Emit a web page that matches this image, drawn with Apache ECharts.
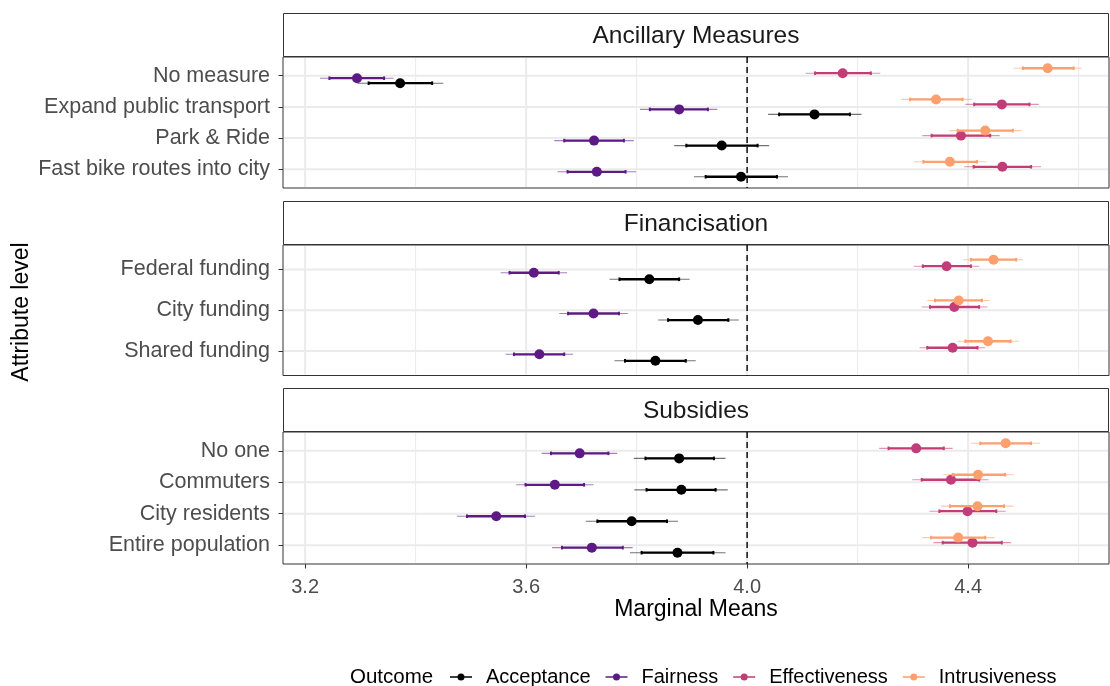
<!DOCTYPE html>
<html>
<head>
<meta charset="utf-8">
<script src="https://cdn.jsdelivr.net/npm/echarts@6/dist/echarts.min.js"></script>
<style>
  html, body { margin: 0; padding: 0; background: #ffffff; }
  #chart { width: 1110px; height: 686px; }
</style>
</head>
<body>
<div id="chart"></div>
<script>
// ---- Facets, attribute levels and outcomes ----
const facetNames = ['Ancillary Measures', 'Financisation', 'Subsidies'];
const levelsAncillary = ['No measure', 'Expand public transport', 'Park & Ride', 'Fast bike routes into city'];
const levelsFinance = ['Federal funding', 'City funding', 'Shared funding'];
const levelsSubsidy = ['No one', 'Commuters', 'City residents', 'Entire population'];
const outcomes = ['Acceptance', 'Fairness', 'Effectiveness', 'Intrusiveness'];

// x-axis ticks and gridlines
const xTicks = [3.2, 3.6, 4.0, 4.4];
const xMinor = [3.4, 3.8, 4.2, 4.6];
const refValue = 4.0;

// Estimates and intervals; the 11 entries run through the levels of the three facets in order
const acceptanceEst  = [3.372, 4.122, 3.954, 3.989, 3.823, 3.911, 3.834, 3.877, 3.881, 3.791, 3.874];
const acceptanceLo95 = [3.295, 4.038, 3.868, 3.904, 3.751, 3.839, 3.760, 3.795, 3.796, 3.708, 3.788];
const acceptanceHi95 = [3.450, 4.207, 4.040, 4.074, 3.896, 3.985, 3.907, 3.961, 3.965, 3.875, 3.961];
const acceptanceLo90 = [3.315, 4.058, 3.890, 3.925, 3.769, 3.857, 3.779, 3.816, 3.818, 3.729, 3.809];
const acceptanceHi90 = [3.430, 4.186, 4.019, 4.054, 3.877, 3.966, 3.889, 3.940, 3.943, 3.855, 3.939];

const fairnessEst  = [3.294, 3.877, 3.723, 3.728, 3.614, 3.722, 3.624, 3.697, 3.652, 3.546, 3.719];
const fairnessLo95 = [3.227, 3.806, 3.651, 3.657, 3.554, 3.660, 3.563, 3.628, 3.582, 3.475, 3.647];
const fairnessHi95 = [3.360, 3.946, 3.795, 3.799, 3.674, 3.784, 3.685, 3.765, 3.722, 3.616, 3.793];
const fairnessLo90 = [3.244, 3.824, 3.669, 3.675, 3.570, 3.676, 3.578, 3.645, 3.599, 3.493, 3.665];
const fairnessHi90 = [3.343, 3.929, 3.777, 3.780, 3.659, 3.768, 3.669, 3.749, 3.705, 3.598, 3.775];

const effectivenessEst  = [4.173, 4.461, 4.387, 4.462, 4.361, 4.375, 4.372, 4.306, 4.369, 4.399, 4.408];
const effectivenessLo95 = [4.106, 4.395, 4.317, 4.393, 4.302, 4.316, 4.312, 4.239, 4.299, 4.330, 4.337];
const effectivenessHi95 = [4.241, 4.528, 4.457, 4.532, 4.420, 4.435, 4.431, 4.372, 4.437, 4.468, 4.478];
const effectivenessLo90 = [4.123, 4.411, 4.334, 4.410, 4.318, 4.331, 4.326, 4.256, 4.316, 4.348, 4.354];
const effectivenessHi90 = [4.224, 4.511, 4.440, 4.514, 4.405, 4.420, 4.417, 4.356, 4.420, 4.451, 4.461];

const intrusivenessEst  = [4.544, 4.342, 4.431, 4.367, 4.446, 4.383, 4.436, 4.468, 4.418, 4.417, 4.382];
const intrusivenessLo95 = [4.482, 4.279, 4.366, 4.302, 4.391, 4.326, 4.381, 4.405, 4.355, 4.351, 4.317];
const intrusivenessHi95 = [4.606, 4.407, 4.497, 4.433, 4.500, 4.439, 4.492, 4.530, 4.483, 4.482, 4.448];
const intrusivenessLo90 = [4.499, 4.295, 4.381, 4.319, 4.405, 4.340, 4.395, 4.422, 4.372, 4.367, 4.333];
const intrusivenessHi90 = [4.591, 4.390, 4.481, 4.416, 4.487, 4.425, 4.477, 4.514, 4.467, 4.465, 4.431];

// ---- Assemble ----
const facetLevels = [levelsAncillary, levelsFinance, levelsSubsidy];
const outcomeData = [
  [acceptanceEst, acceptanceLo95, acceptanceHi95, acceptanceLo90, acceptanceHi90],
  [fairnessEst, fairnessLo95, fairnessHi95, fairnessLo90, fairnessHi90],
  [effectivenessEst, effectivenessLo95, effectivenessHi95, effectivenessLo90, effectivenessHi90],
  [intrusivenessEst, intrusivenessLo95, intrusivenessHi95, intrusivenessLo90, intrusivenessHi90]
];
const outcomeColors = ['#000000', '#5D1A84', '#C23C77', '#FE9F6D'];
const dodge = [0.24, 0.08, -0.08, -0.24];   // vertical offset of each outcome within a level

const FONT = '"Liberation Sans", Arial, Helvetica, sans-serif';
const panelLeft = 283, panelWidth = 826;
const panelTop = [57, 245, 432];
const panelHeight = [131, 130.5, 132];
const stripHeight = 43;
const xMin = 3.16, xMax = 4.655;

const grids = [], xAxes = [], yAxes = [], series = [], graphics = [];

function gridLineItem(params, api) {
  const cs = params.coordSys;
  const kind = api.value(1);
  const v = api.value(0);
  if (kind === 2) {
    const p = api.coord([xMin, v]);
    return { type: 'line', shape: { x1: cs.x + 1, y1: p[1], x2: cs.x + cs.width - 1, y2: p[1] },
      style: { stroke: '#EBEBEB', lineWidth: 2 } };
  }
  const p = api.coord([v, 1]);
  return { type: 'line', shape: { x1: p[0], y1: cs.y + 1, x2: p[0], y2: cs.y + cs.height - 1 },
    style: { stroke: '#EBEBEB', lineWidth: kind === 0 ? 2 : 1 } };
}

function refLineItem(params, api) {
  const cs = params.coordSys;
  const p = api.coord([api.value(0), 1]);
  return { type: 'line', shape: { x1: p[0], y1: cs.y, x2: p[0], y2: cs.y + cs.height },
    style: { stroke: '#000000', lineWidth: 1.4, lineDash: [6, 4] } };
}

function rangeItemFor(color) {
  return function (params, api) {
    const y = api.value(5);
    const m = api.coord([api.value(0), y]);
    const a = api.coord([api.value(1), y]);
    const b = api.coord([api.value(2), y]);
    const c = api.coord([api.value(3), y]);
    const d = api.coord([api.value(4), y]);
    return {
      type: 'group',
      children: [
        { type: 'line', shape: { x1: a[0], y1: a[1], x2: b[0], y2: b[1] },
          style: { stroke: color, lineWidth: 1.1, opacity: 0.55 } },
        { type: 'line', shape: { x1: c[0], y1: c[1], x2: d[0], y2: d[1] },
          style: { stroke: color, lineWidth: 2.3 } },
        { type: 'rect', shape: { x: c[0] - 1, y: c[1] - 1.8, width: 2, height: 3.6 }, style: { fill: color } },
        { type: 'rect', shape: { x: d[0] - 1, y: d[1] - 1.8, width: 2, height: 3.6 }, style: { fill: color } },
        { type: 'circle', shape: { cx: m[0], cy: m[1], r: 5 }, style: { fill: color } }
      ]
    };
  };
}

let offset = 0;
facetLevels.forEach(function (levels, f) {
  const n = levels.length;
  const isBottom = f === facetLevels.length - 1;
  grids.push({
    left: panelLeft, width: panelWidth, top: panelTop[f], height: panelHeight[f],
    show: true, backgroundColor: '#ffffff', borderColor: '#333333', borderWidth: 1
  });
  xAxes.push({
    type: 'value', gridIndex: f, min: xMin, max: xMax,
    axisLine: { show: false },
    splitLine: { show: false },
    axisTick: { show: isBottom, customValues: xTicks, length: 4.5, inside: false,
      lineStyle: { color: '#333333', width: 1 } },
    axisLabel: { show: isBottom, customValues: xTicks, margin: 13, fontSize: 20, color: '#4D4D4D', fontFamily: FONT,
      formatter: function (v) { return v.toFixed(1); } },
    name: isBottom ? 'Marginal Means' : '',
    nameLocation: 'middle', nameGap: 34,
    nameTextStyle: { fontSize: 23, color: '#000000', fontFamily: FONT, verticalAlign: 'top' }
  });
  const levelTicks = levels.map(function (_, i) { return i + 1; });
  yAxes.push({
    type: 'value', gridIndex: f, min: 0.4, max: n + 0.6, inverse: true,
    axisLine: { show: false },
    splitLine: { show: false },
    axisTick: { show: true, customValues: levelTicks, length: 4.5, lineStyle: { color: '#333333', width: 1 } },
    axisLabel: { show: true, customValues: levelTicks, margin: 13, fontSize: 21.5, color: '#4D4D4D', fontFamily: FONT,
      formatter: function (v) { return levels[Math.round(v) - 1]; } }
  });

  // background gridlines
  const gl = [];
  xTicks.forEach(function (v) { gl.push([v, 0]); });
  xMinor.forEach(function (v) { gl.push([v, 1]); });
  levelTicks.forEach(function (v) { gl.push([v, 2]); });
  series.push({ type: 'custom', xAxisIndex: f, yAxisIndex: f, silent: true, z: 1,
    renderItem: gridLineItem, data: gl });
  // reference line
  series.push({ type: 'custom', xAxisIndex: f, yAxisIndex: f, silent: true, z: 2,
    renderItem: refLineItem, data: [[refValue, 1]] });

  // outcome ranges
  outcomes.forEach(function (name, k) {
    const arrs = outcomeData[k];
    const data = levels.map(function (_, i) {
      const j = offset + i;
      return [arrs[0][j], arrs[1][j], arrs[2][j], arrs[3][j], arrs[4][j], i + 1 + dodge[k]];
    });
    series.push({
      type: 'custom', name: name, xAxisIndex: f, yAxisIndex: f, z: 3 + k,
      itemStyle: { color: outcomeColors[k] },
      renderItem: rangeItemFor(outcomeColors[k]),
      encode: { x: [0, 1, 2, 3, 4], y: 5 },
      data: data
    });
  });
  offset += n;

  // facet strip
  const sTop = panelTop[f] - stripHeight - 1;
  graphics.push({
    type: 'rect', z: 10,
    shape: { x: panelLeft + 0.5, y: sTop + 0.5, width: panelWidth - 1, height: stripHeight },
    style: { fill: '#ffffff', stroke: '#333333', lineWidth: 1 }
  });
  graphics.push({
    type: 'text', z: 11,
    x: panelLeft + panelWidth / 2, y: sTop + stripHeight / 2 + 1.5,
    style: { text: facetNames[f], fontSize: 24.5, fontFamily: FONT, fill: '#1A1A1A',
      align: 'center', verticalAlign: 'middle', textAlign: 'center', textVerticalAlign: 'middle' }
  });
});

// y-axis title
graphics.push({
  type: 'text', z: 11, x: 22, y: 312, rotation: Math.PI / 2,
  style: { text: 'Attribute level', fontSize: 23, fontFamily: FONT, fill: '#000000',
    align: 'center', verticalAlign: 'middle', textAlign: 'center', textVerticalAlign: 'middle' }
});
// legend title
graphics.push({
  type: 'text', z: 11, x: 350, y: 677,
  style: { text: 'Outcome', fontSize: 20.5, fontFamily: FONT, fill: '#000000',
    align: 'left', verticalAlign: 'middle', textAlign: 'left', textVerticalAlign: 'middle' }
});

const legendIcon = 'path://M0,2.8L22,2.8L22,4.2L0,4.2Z M11,0 A3.5,3.5 0 1 1 11,7 A3.5,3.5 0 1 1 11,0 Z';

const chart = echarts.init(document.getElementById('chart'), null, { renderer: 'canvas' });
chart.setOption({
  animation: false,
  backgroundColor: '#ffffff',
  grid: grids,
  xAxis: xAxes,
  yAxis: yAxes,
  legend: {
    left: 450, top: 667, padding: 0,
    orient: 'horizontal',
    itemWidth: 22, itemHeight: 7, itemGap: 15,
    icon: legendIcon,
    selectedMode: false,
    textStyle: { fontSize: 20, color: '#000000', fontFamily: FONT, padding: [0, 0, 0, 9] },
    data: outcomes.map(function (n, k) { return { name: n, icon: legendIcon, itemStyle: { color: outcomeColors[k] } }; })
  },
  graphic: graphics,
  series: series
});
</script>
</body>
</html>
